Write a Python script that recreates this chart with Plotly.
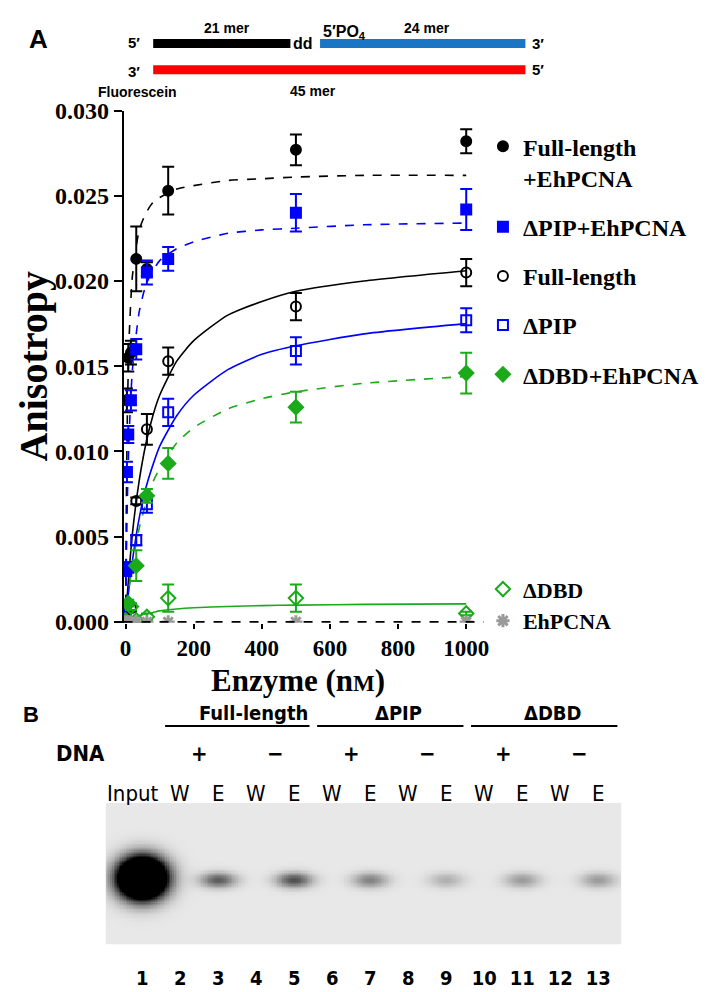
import numpy as np
import plotly.graph_objects as go

W, H = 709, 992
SERIF = "Liberation Serif, Times New Roman, serif"
SANS = "Liberation Sans, Arial, sans-serif"
NARROW = "Liberation Sans Narrow, Arial Narrow, DejaVu Sans Condensed, sans-serif"

BLACK = "#000000"
BLUE = "#0000ff"
GREEN = "#1aaa1a"
GREY = "#9a9a9a"

# ---- panel A data (enzyme nM vs anisotropy) ----
fl_pcna_x = [0, 3.9, 7.8, 15.6, 31.25, 62.5, 125, 500, 1000]
fl_pcna_y = [0.0002, 0.0130, 0.0155, 0.0158, 0.0213, 0.0207, 0.0253, 0.0277, 0.0282]
fl_pcna_e = [0.0002, 0.0007, 0.0008, 0.0007, 0.0019, 0.0004, 0.0014, 0.0009, 0.0007]

pip_pcna_x = [0, 1.95, 3.9, 7.8, 15.6, 31.25, 62.5, 125, 500, 1000]
pip_pcna_y = [0.0009, 0.0031, 0.0088, 0.0110, 0.0130, 0.0160, 0.0205, 0.0213, 0.0240, 0.0242]
pip_pcna_e = [0.0003, 0.0004, 0.0006, 0.0005, 0.0006, 0.0006, 0.0007, 0.0007, 0.0011, 0.0012]

fl_x = [0, 15.6, 31.25, 62.5, 125, 500, 1000]
fl_y = [0.0002, 0.0008, 0.0071, 0.0113, 0.0153, 0.0185, 0.0205]
fl_e = [0.0001, 0.0002, 0.0002, 0.0009, 0.0008, 0.0008, 0.0008]

pip_x = [0, 7.8, 31.25, 62.5, 125, 500, 1000]
pip_y = [0.0005, 0.0032, 0.0048, 0.0069, 0.0123, 0.0159, 0.0177]
pip_e = [0.0002, 0.0003, 0.0003, 0.0005, 0.0008, 0.0008, 0.0007]

dbd_pcna_x = [0, 7.8, 31.25, 62.5, 125, 500, 1000]
dbd_pcna_y = [0.0001, 0.0011, 0.0033, 0.0074, 0.0093, 0.0126, 0.0146]
dbd_pcna_e = [0.0001, 0.0002, 0.0009, 0.0004, 0.0009, 0.0009, 0.0012]

dbd_x = [0, 15.6, 31.25, 62.5, 125, 500, 1000]
dbd_y = [0.0000, 0.0009, 0.0001, 0.0003, 0.0014, 0.0014, 0.0005]
dbd_e = [0.0000, 0.0002, 0.0001, 0.0002, 0.0008, 0.0008, 0.0001]

pcna_x = [0, 7.8, 15.6, 31.25, 62.5, 125, 500, 1000]
pcna_y = [0, 0, 0, 0, 0, 0, 0, 0]

# fitted curves
fit_x = [0, 2, 5, 10, 20, 40, 60, 80, 100, 150, 200, 300, 400, 500, 700, 1000]
fit_fl_pcna = [0, 0.0066, 0.0120, 0.0165, 0.0203, 0.0230, 0.0240, 0.0246, 0.0249, 0.0254,
               0.0256, 0.0259, 0.0260, 0.0261, 0.0262, 0.0262]
fit_pip_pcna = [0, 0.0034, 0.0070, 0.0108, 0.0148, 0.0182, 0.0198, 0.0206, 0.0212, 0.0219,
                0.0223, 0.0228, 0.0230, 0.0231, 0.0233, 0.0234]
fit_fl = [0, 0.0006, 0.0016, 0.0029, 0.0052, 0.0083, 0.0105, 0.0121, 0.0133, 0.0153,
          0.0165, 0.0180, 0.0188, 0.0194, 0.0200, 0.0206]
fit_pip = [0, 0.0004, 0.0011, 0.0020, 0.0036, 0.0061, 0.0079, 0.0092, 0.0103, 0.0121,
           0.0133, 0.0148, 0.0157, 0.0162, 0.0169, 0.0175]
fit_dbd_pcna = [0, 0.0004, 0.0010, 0.0019, 0.0034, 0.0055, 0.0070, 0.0082, 0.0090, 0.0105,
                0.0114, 0.0125, 0.0131, 0.0135, 0.0140, 0.0144]
fit_dbd = [0, 0.00003, 0.00006, 0.00012, 0.00022, 0.00038, 0.00048, 0.00056, 0.00065, 0.00076,
           0.00083, 0.00091, 0.00096, 0.00099, 0.00103, 0.00106]

# ---- panel B data (gel) ----
lanes = list(range(1, 14))
lane_top = ["Input", "W", "E", "W", "E", "W", "E", "W", "E", "W", "E", "W", "E"]
band_lane = [1, 3, 5, 7, 9, 11, 13]
band_dark = [3.0, 0.55, 0.60, 0.40, 0.22, 0.30, 0.30]
groups = ["Full-length", "\u0394PIP", "\u0394DBD"]
dna_signs = ["+", "\u2212", "+", "\u2212", "+", "\u2212"]


def px(x):
    return x / W


def py(y):
    return 1 - y / H


fig = go.Figure()

# fit lines first
for yy, col, dash in [
    (fit_fl_pcna, BLACK, "dash"),
    (fit_pip_pcna, BLUE, "dash"),
    (fit_fl, BLACK, "solid"),
    (fit_pip, BLUE, "solid"),
    (fit_dbd_pcna, GREEN, "dash"),
    (fit_dbd, GREEN, "solid"),
]:
    fig.add_trace(go.Scatter(x=fit_x, y=yy, mode="lines", line=dict(color=col, width=1.6, dash=dash,
                                                                    shape="spline", smoothing=0.6),
                             showlegend=False, hoverinfo="skip"))

series = [
    ("Full-length<br>+EhPCNA", fl_pcna_x, fl_pcna_y, fl_pcna_e, BLACK, "circle", "legend"),
    ("\u0394PIP+EhPCNA", pip_pcna_x, pip_pcna_y, pip_pcna_e, BLUE, "square", "legend"),
    ("Full-length", fl_x, fl_y, fl_e, BLACK, "circle-open", "legend"),
    ("\u0394PIP", pip_x, pip_y, pip_e, BLUE, "square-open", "legend"),
    ("\u0394DBD+EhPCNA", dbd_pcna_x, dbd_pcna_y, dbd_pcna_e, GREEN, "diamond", "legend"),
    ("\u0394DBD", dbd_x, dbd_y, dbd_e, GREEN, "diamond-open", "legend2"),
]
for i, (name, xs, ys, es, col, sym, lg) in enumerate(series):
    fig.add_trace(go.Scatter(
        x=xs, y=ys, name=name, mode="markers", legend=lg, legendgroup="g%d" % i,
        error_y=dict(type="data", array=es, color=col, thickness=2, width=6),
        marker=dict(symbol=sym, size=11 if "diamond" in sym else 10, color=col,
                    line=dict(color=col, width=2)),
    ))

fig.add_trace(go.Scatter(
    x=pcna_x, y=pcna_y, name="EhPCNA", mode="markers", legend="legend2", legendgroup="g9",
    marker=dict(symbol="asterisk-open", size=11, color=GREY, line=dict(color=GREY, width=3)),
))

# gel image
gx = np.linspace(0.04, 13.6, 300)
gy = np.linspace(0, 145, 110)
GX, GY = np.meshgrid(gx, gy)
z = np.full(GX.shape, 0.09)
for ln, d in zip(band_lane, band_dark):
    if ln == 1:
        sx, sy, cy = 0.42, 14.0, 68
    else:
        sx, sy, cy = 0.33, 5.5, 66
    z += d * np.exp(-((GX - ln) ** 2) / (2 * sx ** 2) - ((GY - cy) ** 2) / (2 * sy ** 2))
fig.add_trace(go.Heatmap(x=gx, y=gy, z=z, xaxis="x2", yaxis="y2", zmin=0, zmax=1,
                         colorscale=[[0, "#ffffff"], [1, "#000000"]], showscale=False,
                         hoverinfo="skip"))

tickfont = dict(family=SERIF, size=23, color="black", weight="bold")
legfont = dict(family=SERIF, size=24, color="black", weight="bold")
fig.update_layout(
    width=W, height=H, margin=dict(l=0, r=0, t=0, b=0),
    paper_bgcolor="white", plot_bgcolor="white",
    xaxis=dict(domain=[px(113), px(478)], range=[-6, 1052], showgrid=False, zeroline=False,
               showline=False, ticks="outside", ticklen=5, tickwidth=1.5, tickcolor="black",
               tickvals=[0, 200, 400, 600, 800, 1000], tickfont=tickfont),
    yaxis=dict(domain=[py(618), py(92)], range=[-0.00005, 0.0300], showgrid=False, zeroline=False,
               showline=True, linecolor="black", linewidth=1.5, ticks="outside", ticklen=8,
               tickwidth=1.5, tickcolor="black", dtick=0.005, tickformat=".3f",
               tickfont=dict(tickfont, size=24)),
    xaxis2=dict(domain=[px(95), px(617)], range=[0.04, 13.6], anchor="y2", showgrid=False,
                zeroline=False, showline=False, tickvals=lanes, ticks="outside", ticklen=16,
                tickcolor="rgba(0,0,0,0)",
                tickfont=dict(family=NARROW, size=20, color="black", weight="bold")),
    yaxis2=dict(domain=[py(948), py(803)], range=[0, 145], anchor="x2", showgrid=False,
                zeroline=False, showticklabels=False),
    legend=dict(x=px(477), y=py(106), xanchor="left", yanchor="top", itemwidth=30,
                font=legfont, bgcolor="rgba(0,0,0,0)", tracegroupgap=15, valign="top"),
    legend2=dict(x=px(477), y=py(562), xanchor="left", yanchor="top", itemwidth=30,
                 font=dict(legfont, size=22), bgcolor="rgba(0,0,0,0)", tracegroupgap=0),
)

# dashed x-axis line (EhPCNA baseline)
fig.add_shape(type="line", xref="x domain", x0=0, x1=1, yref="y", y0=0, y1=0,
              line=dict(color="black", width=2, dash="dash"))

anns = []


def ann(text, x, y, size, family=SANS, bold=True, xanchor="center", angle=0, xref="paper",
        yanchor="middle"):
    anns.append(dict(text=text, x=x if xref != "paper" else px(x), y=py(y), xref=xref, yref="paper",
                     showarrow=False, xanchor=xanchor, yanchor=yanchor, textangle=angle,
                     font=dict(family=family, size=size, color="black",
                               weight="bold" if bold else "normal")))


# DNA schematic
for x0, x1, yy, col in [(143, 282, 23, "black"), (312, 520, 23, "#1a75c4"), (143, 520, 50, "#ff0000")]:
    fig.add_shape(type="line", xref="paper", yref="paper", x0=px(x0), x1=px(x1), y0=py(yy), y1=py(yy),
                  line=dict(color=col, width=9))
ann("A", 27, 18, 26)
ann("5\u2032", 124, 22, 15)
ann("3\u2032", 124, 52, 15)
ann("21 mer", 218, 7, 14)
ann("dd", 295, 23, 16)
ann("5\u2032PO<sub>4</sub>", 337, 12, 16)
ann("24 mer", 420, 7, 14)
ann("3\u2032", 533, 23, 15)
ann("5\u2032", 533, 50, 15)
ann("Fluorescein", 127, 73, 14)
ann("45 mer", 305, 72, 14)

# axis titles
ann("Anisotropy", 22, 355, 40, family=SERIF, angle=-90)
ann("Enzyme (n<span style='font-size:23px'>M</span>)", 290, 657, 31, family=SERIF, yanchor="top")

# panel B labels
ann("B", 19, 712, 22)
ann(groups[0], 5.4, 711, 20, family=NARROW, xanchor="right", xref="x2")
ann(groups[1], 7.75, 711, 20, family=NARROW, xref="x2")
ann(groups[2], 11.8, 711, 20, family=NARROW, xref="x2")
for a, b in [(1.6, 5.4), (5.6, 9.45), (9.65, 13.5)]:
    fig.add_shape(type="line", xref="x2", yref="paper", x0=a, x1=b, y0=py(724), y1=py(724),
                  line=dict(color="black", width=2))
ann("DNA", 69, 752, 22, family=NARROW)
for s, c in zip(dna_signs, [2.5, 4.5, 6.5, 8.5, 10.5, 12.5]):
    ann(s, c, 752, 22, family=NARROW, xref="x2")
for t, ln in zip(lane_top, lanes):
    ann(t, ln - (0.25 if ln == 1 else 0), 793, 22, family=NARROW, bold=False, xref="x2")

fig.update_layout(annotations=anns)
fig.write_html("out.html")
